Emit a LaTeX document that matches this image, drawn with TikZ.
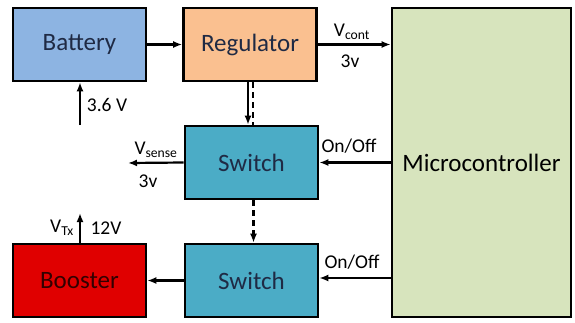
\documentclass[tikz,border=0pt]{standalone}
\usepackage{fontspec}
\setmainfont{Carlito}
\usetikzlibrary{arrows.meta,positioning}
\definecolor{BattBlue}{HTML}{8DB4E2}
\definecolor{RegPeach}{HTML}{FAC090}
\definecolor{SwTeal}{HTML}{4BACC6}
\definecolor{BoostRed}{HTML}{E00000}
\definecolor{MicroGreen}{HTML}{D7E4BD}
\definecolor{BoxText}{HTML}{1F2A44}
\tikzset{
  block/.style={draw=black,line width=2.6pt,minimum width=133pt,minimum height=73pt,font=\fontsize{25}{30}\selectfont,text=BoxText,inner sep=0pt},
  link/.style={-{Latex[length=9pt,width=7pt]},line width=2.2pt},
  lbl/.style={font=\fontsize{19.5}{23}\selectfont,inner sep=1pt}
}
\begin{document}
\begin{tikzpicture}[x=1pt,y=-1pt]
    \useasboundingbox (0,0) rectangle (575,322);
    \node[block,fill=BattBlue] (battery) at (79.5,44.5) {Battery};
    \node[block,fill=RegPeach] (regulator) at (250,44.5) {Regulator};
    \node[block,fill=SwTeal] (switchA) at (251.5,162.5) {Switch};
    \node[block,fill=SwTeal] (switchB) at (251.5,280.5) {Switch};
    \node[block,fill=BoostRed,text=black!80!red] (booster) at (79.5,280.5) {Booster};
    \node[block,fill=MicroGreen,text=black,minimum width=179pt,minimum height=309pt] (micro) at (481.5,162.5) {Microcontroller};
    \coordinate (cell) at (80,125);
    \coordinate (sense) at (128,163);
    \coordinate (tx) at (80,213);
    % power path
    \draw[link] (battery.east) -- (regulator.west);
    \draw[link] (regulator.east) -- (regulator.east -| micro.west);
    \draw[link] (cell) -- (cell |- battery.south);
    \draw[link] ([xshift=-2pt]regulator.south) -- ([xshift=-2pt]regulator.south |- switchA.north);
    \draw[line width=2.2pt,dashed,dash pattern=on 6pt off 4pt] ([xshift=3pt]regulator.south) -- ([xshift=3pt]regulator.south |- switchA.north);
    \draw[link,dashed,dash pattern=on 6pt off 4pt] ([xshift=2pt]switchA.south) -- ([xshift=2pt]switchA.south |- switchB.north);
    \draw[link] (switchA.west) -- (sense);
    \draw[link] (switchB.west) -- (booster.east);
    \draw[link] (tx |- booster.north) -- (tx);
    % control lines
    \draw[link] (micro.west |- switchA.east) -- (switchA.east);
    \draw[link] (micro.west |- 0,278) -- (switchB.east |- 0,278);
    % labels
    \node[lbl] (vcont) at (352,32) {V\textsubscript{cont}};
    \node[lbl] (vcontval) at (350,61) {3v};
    \node[lbl] (cellval) at (107,105) {3.6 V};
    \node[lbl] (onoffA) at (349,146) {On/Off};
    \node[lbl] (onoffB) at (352,262) {On/Off};
    \node[lbl] (vsense) at (156,150) {V\textsubscript{sense}};
    \node[lbl] (senseval) at (148,181) {3v};
    \node[lbl] (vtx) at (62,228) {V\textsubscript{Tx}};
    \node[lbl] (txval) at (106,228) {12V};
\end{tikzpicture}
\end{document}
